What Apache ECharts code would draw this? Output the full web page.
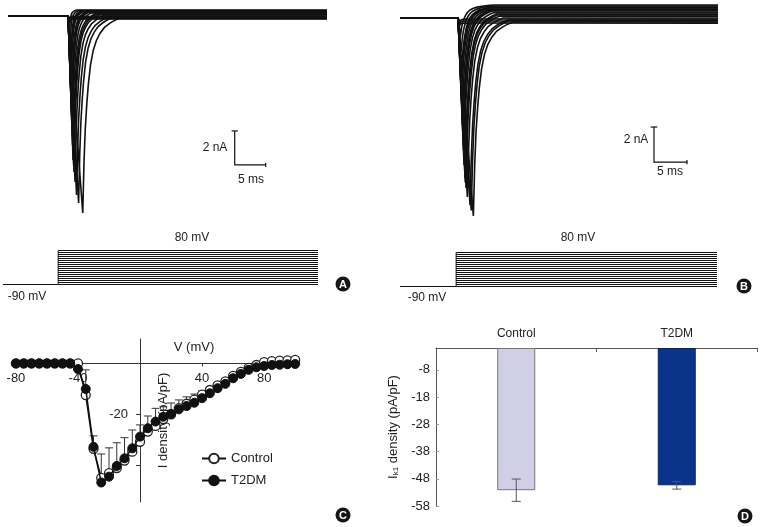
<!DOCTYPE html>
<html>
<head>
<meta charset="utf-8">
<script src="https://cdn.jsdelivr.net/npm/echarts@6/dist/echarts.min.js"></script>
<style>
html, body { margin: 0; padding: 0; background: #fff; }
#main { width: 761px; height: 527px; }
</style>
</head>
<body>
<div id="main"></div>
<script>
var FONT = '"Liberation Sans", Arial, sans-serif';
var INK = '#111';

// ---- A / B : current traces (ms, nA), one entry per trace ----
var stepT = 10;
var spanA = [0.3, 51.8];
var aPeakT = [12.37, 11.7, 11.37, 11.13, 10.97, 10.9, 10.81, 10.73, 10.65, 10.6, 10.56, 10.48, 10.45, 10.40, 10.32, 10.24, 10.2, 10.2, 10.2, 10.2];
var aPeakI = [-11.59, -11.0, -10.53, -9.76, -9.18, -8.8, -8.47, -7.59, -6.59, -6.0, -5.53, -4.35, -3.8, -3.18, -2.00, -0.94, -0.3, -0.25, -0.2, -0.15];
var aPlateau = [-0.12, -0.1, -0.06, 0, 0.06, 0.1, 0.12, 0.18, 0.21, 0.22, 0.24, 0.26, 0.28, 0.29, 0.32, 0.35, -0.18, -0.15, -0.09, -0.03];
var aTau = [1.0, 0.9, 0.85, 0.75, 0.66, 0.62, 0.58, 0.5, 0.44, 0.41, 0.38, 0.33, 0.3, 0.28, 0.24, 0.2, 0.15, 0.15, 0.15, 0.15];

var spanB = [1.2, 49.4];
var bPeakT = [12.32, 12.0, 11.82, 11.41, 11.21, 11.1, 11.06, 10.91, 10.83, 10.8, 10.76, 10.68, 10.61, 10.57, 10.53, 10.45, 10.38, 10.3, 10.3, 10.3];
var bPeakI = [-11.31, -11.0, -10.69, -10.23, -9.71, -9.4, -9.14, -8.40, -7.54, -7.0, -6.51, -5.37, -4.23, -3.6, -3.09, -1.94, -0.97, -0.4, -0.3, -0.2];
var bPlateau = [-0.23, -0.15, -0.11, 0, 0.11, 0.18, 0.23, 0.31, 0.40, 0.43, 0.46, 0.51, 0.57, 0.6, 0.63, 0.69, 0.74, -0.29, -0.17, -0.06];
var bTau = [1.0, 0.97, 0.95, 0.9, 0.85, 0.82, 0.8, 0.75, 0.72, 0.71, 0.7, 0.7, 0.72, 0.73, 0.75, 0.8, 0.85, 0.2, 0.2, 0.2];

// recovery from peak: ms after peak / fraction of peak left
var recT = [0, 0.2, 0.4, 0.65, 0.9, 1.25, 1.7, 2.2, 2.8, 3.5, 4.4, 5.2, 6.0];
var recF = [1, 0.74, 0.57, 0.44, 0.34, 0.24, 0.165, 0.115, 0.078, 0.048, 0.026, 0.011, 0];

// scale bars: corner [ms, nA], 5 ms x 2 nA
var barA = [36.9, -8.76];
var barB = [39.7, -8.23];

// ---- voltage protocol (ms, mV) ----
var protoLevels = [-90, -80, -70, -60, -50, -40, -30, -20, -10, 0, 10, 20, 30, 40, 50, 60, 70, 80];
var protoSpanA = [1.1, 51.9];
var protoSpanB = [1.5, 49.5];

// ---- C : I-V relation ----
var voltC = [-80, -75, -70, -65, -60, -55, -50, -45, -40, -35, -30, -25, -20, -15, -10, -5, 0, 5, 10,
  15, 20, 25, 30, 35, 40, 45, 50, 55, 60, 65, 70, 75, 80, 85, 90, 95, 100];
var controlC = [0, 0, 0, 0, 0, 0, 0, 0, 0, -12.4, -33.5, -44.9, -43, -41, -38.1, -34.6, -30.7, -26.7, -24.5,
  -21.8, -20, -17.5, -15.8, -14.2, -12.2, -10.4, -8.6, -7.0, -4.9, -3.3, -1.7, -0.6, 0.5, 0.9, 1.1, 1.2, 1.4];
var controlErr = [0, 0, 0, 0, 0, 0, 0, 0, 0.8, 9.9, 5.1, 9.4, 9.9, 9.9, 9.0, 8.5, 6.6, 6.1, 6.9,
  4.8, 4.5, 3.2, 2.7, 2.2, 1.4, 1.1, 1.0, 0.8, 0.8, 0.8, 0.8, 0.8, 0.8, 0.8, 0.8, 0.8, 0.8];
var t2dmC = [0, 0, 0, 0, 0, 0, 0, 0, -2.2, -10, -32.7, -46.7, -44.4, -40.2, -37.2, -33.3, -28.7, -25.4, -22.8,
  -20.9, -19.8, -18, -16.7, -15.4, -13.6, -11.7, -9.7, -8, -5.8, -4.1, -2.5, -1.5, -1, -0.6, -0.5, -0.3, -0.2];
var xTicksC = [-80, -40, 40, 80];

// ---- D : IK1 density ----
var groupsD = ['Control', 'T2DM'];
var meanD = [-52.2, -50.4];
var semD = [4.1, 1.4];
var yTicksD = [-8, -18, -28, -38, -48, -58];

function traceCoords(span, pt, pi, pl, tau) {
    var c = [[span[0], 0], [stepT, 0], [pt, pi]];
    for (var j = 1; j < recT.length; j++) {
        c.push([pt + tau * recT[j], pl + (pi - pl) * recF[j]]);
    }
    c.push([span[1], pl]);
    return { coords: c };
}
function traces(span, pT, pI, pl, tau) {
    var out = [];
    for (var i = 0; i < pT.length; i++) out.push(traceCoords(span, pT[i], pI[i], pl[i], tau[i]));
    return out;
}
function protocol(span) {
    var out = [
        { coords: [[span[0], -90], [stepT, -90]] },
        { coords: [[stepT, -90], [stepT, 80]] }
    ];
    protoLevels.forEach(function (l) { out.push({ coords: [[stepT, l], [span[1], l]] }); });
    return out;
}
function scaleBar(c) {
    return [
        { coords: [[c[0], c[1] + 2], [c[0], c[1]], [c[0] + 5, c[1]]] },
        { coords: [[c[0] - 0.5, c[1] + 2], [c[0] + 0.5, c[1] + 2]] },
        { coords: [[c[0] + 5, c[1] - 0.12], [c[0] + 5, c[1] + 0.12]] }
    ];
}
function linesSeries(idx, data, w) {
    return {
        type: 'lines', coordinateSystem: 'cartesian2d', polyline: true,
        xAxisIndex: idx, yAxisIndex: idx, silent: true, clip: false,
        lineStyle: { color: INK, width: w, opacity: 1 },
        data: data
    };
}
function hiddenAxis(min, max, idx) {
    return { type: 'value', gridIndex: idx, min: min, max: max, show: false };
}
function badge(letter, x, y) {
    return {
        type: 'group', x: x, y: y,
        children: [
            { type: 'circle', shape: { cx: 0, cy: 0, r: 7.5 }, style: { fill: '#161616' } },
            { type: 'text', x: 0, y: 0.5, style: { text: letter, fill: '#fff', font: 'bold 11px "Liberation Sans", Arial', align: 'center', verticalAlign: 'middle' } }
        ]
    };
}
function label(text, x, y, size) {
    return { type: 'text', x: x, y: y, style: { text: text, fill: '#222', font: (size || 12) + 'px ' + FONT, align: 'center', verticalAlign: 'middle' } };
}

var myChart = echarts.init(document.getElementById('main'), null, { renderer: 'canvas' });

var option = {
    animation: false,
    backgroundColor: '#fff',
    grid: [
        { left: 8, top: 5.8, width: 319, height: 222.7, outerBoundsMode: 'none' },
        { left: 400, top: 4, width: 318, height: 232.75, outerBoundsMode: 'none' },
        { left: 3, top: 249.5, width: 315, height: 36, outerBoundsMode: 'none' },
        { left: 400, top: 251.5, width: 317, height: 36, outerBoundsMode: 'none' },
        { left: 11.3, top: 339, width: 288.5, height: 162.9, outerBoundsMode: 'none' },
        { left: 436, top: 348, width: 321, height: 158, outerBoundsMode: 'none' }
    ],
    xAxis: [
        hiddenAxis(spanA[0], spanA[1], 0),
        hiddenAxis(spanB[0], spanB[1], 1),
        hiddenAxis(protoSpanA[0], protoSpanA[1], 2),
        hiddenAxis(protoSpanB[0], protoSpanB[1], 3),
        {
            type: 'value', gridIndex: 4, min: -83, max: 103, position: 'bottom', offset: -138.4,
            axisLine: { onZero: false, lineStyle: { color: '#333', width: 1 } },
            axisTick: { show: true, length: 3, customValues: xTicksC, lineStyle: { color: '#333' } },
            axisLabel: { customValues: xTicksC, margin: 8, color: '#222', fontSize: 13, fontFamily: FONT },
            splitLine: { show: false }
        },
        {
            type: 'category', gridIndex: 5, data: groupsD, position: 'top',
            axisLine: { lineStyle: { color: '#555', width: 1 } },
            axisTick: { show: true, inside: true, length: 4, lineStyle: { color: '#555' } },
            axisLabel: { margin: 8, color: '#222', fontSize: 12, fontFamily: FONT }
        }
    ],
    yAxis: [
        hiddenAxis(-12.5, 0.6, 0),
        hiddenAxis(-12.5, 0.8, 1),
        hiddenAxis(-95, 85, 2),
        hiddenAxis(-95, 85, 3),
        {
            type: 'value', gridIndex: 4, min: -54.3, max: 9.6, position: 'left', offset: -128.7,
            axisLine: { show: true, onZero: false, lineStyle: { color: '#333', width: 1 } },
            axisTick: { show: true, length: 4, customValues: [-20, -40], lineStyle: { color: '#333' } },
            axisLabel: { customValues: [-20], margin: 12, color: '#222', fontSize: 13, fontFamily: FONT },
            splitLine: { show: false },
            name: 'I density (pA/pF)', nameLocation: 'middle', nameGap: -30,
            nameTextStyle: { color: '#222', fontSize: 13, fontFamily: FONT }
        },
        {
            type: 'value', gridIndex: 5, min: -58, max: 0,
            axisLine: { show: true, lineStyle: { color: '#555', width: 1 } },
            axisTick: { show: true, inside: true, length: 3, customValues: yTicksD, lineStyle: { color: '#999' } },
            axisLabel: { customValues: yTicksD, margin: 6, color: '#222', fontSize: 13, fontFamily: FONT },
            splitLine: { show: false },
            name: '{a|I}{s|k1}{a| density (pA/pF)}', nameLocation: 'middle', nameGap: 36,
            nameTextStyle: {
                rich: {
                    a: { fontSize: 13, fontFamily: FONT, color: '#222', lineHeight: 16, verticalAlign: 'bottom' },
                    s: { fontSize: 8, fontFamily: FONT, color: '#222', lineHeight: 16, verticalAlign: 'bottom' }
                }
            }
        }
    ],
    legend: {
        orient: 'vertical', left: 196, top: 447, itemWidth: 24, itemHeight: 12, itemGap: 9,
        data: ['Control', 'T2DM'],
        textStyle: { color: '#222', fontSize: 13, fontFamily: FONT }
    },
    series: [
        linesSeries(0, traces(spanA, aPeakT, aPeakI, aPlateau, aTau), 1.6),
        linesSeries(0, scaleBar(barA), 1.2),
        linesSeries(1, traces(spanB, bPeakT, bPeakI, bPlateau, bTau), 1.6),
        linesSeries(1, scaleBar(barB), 1.2),
        linesSeries(2, protocol(protoSpanA), 1),
        linesSeries(3, protocol(protoSpanB), 1),
        {
            type: 'custom', xAxisIndex: 4, yAxisIndex: 4, silent: true, z: 2,
            data: voltC.map(function (v, i) { return [v, controlC[i], controlErr[i]]; }),
            renderItem: function (params, api) {
                var e = api.value(2);
                if (!e) return;
                var p0 = api.coord([api.value(0), api.value(1)]);
                var p1 = api.coord([api.value(0), api.value(1) + e]);
                var st = { stroke: '#333', lineWidth: 1 };
                return {
                    type: 'group', children: [
                        { type: 'line', shape: { x1: p0[0], y1: p0[1], x2: p1[0], y2: p1[1] }, style: st },
                        { type: 'line', shape: { x1: p1[0] - 4, y1: p1[1], x2: p1[0] + 4, y2: p1[1] }, style: st }
                    ]
                };
            }
        },
        {
            name: 'Control', type: 'line', xAxisIndex: 4, yAxisIndex: 4, z: 3,
            data: voltC.map(function (v, i) { return [v, controlC[i]]; }),
            symbol: 'circle', symbolSize: 9,
            itemStyle: { color: '#fff', borderColor: '#222', borderWidth: 1.3 },
            lineStyle: { color: INK, width: 1.5 }
        },
        {
            name: 'T2DM', type: 'line', xAxisIndex: 4, yAxisIndex: 4, z: 4,
            data: voltC.map(function (v, i) { return [v, t2dmC[i]]; }),
            symbol: 'circle', symbolSize: 9,
            itemStyle: { color: INK, borderColor: INK, borderWidth: 1 },
            lineStyle: { color: INK, width: 1.5 }
        },
        {
            type: 'bar', xAxisIndex: 5, yAxisIndex: 5, barWidth: 38, silent: true,
            data: [
                { value: meanD[0], itemStyle: { color: '#d0cfe6', borderColor: '#777', borderWidth: 1 } },
                { value: meanD[1], itemStyle: { color: '#0b3387', borderColor: '#06246a', borderWidth: 1 } }
            ]
        },
        {
            type: 'custom', xAxisIndex: 5, yAxisIndex: 5, silent: true, z: 5,
            data: groupsD.map(function (g, i) { return [i, meanD[i], semD[i]]; }),
            renderItem: function (params, api) {
                var x = api.value(0), m = api.value(1), e = api.value(2);
                var hi = api.coord([x, m + e]), lo = api.coord([x, m - e]);
                var st = { stroke: '#555', lineWidth: 1 };
                return {
                    type: 'group', children: [
                        { type: 'line', shape: { x1: hi[0], y1: hi[1], x2: lo[0], y2: lo[1] }, style: st },
                        { type: 'line', shape: { x1: hi[0] - 4.5, y1: hi[1], x2: hi[0] + 4.5, y2: hi[1] }, style: st },
                        { type: 'line', shape: { x1: lo[0] - 4.5, y1: lo[1], x2: lo[0] + 4.5, y2: lo[1] }, style: st }
                    ]
                };
            }
        }
    ],
    graphic: [
        label('2 nA', 215, 148),
        label('5 ms', 251, 180),
        label('2 nA', 636, 140),
        label('5 ms', 670, 172),
        label('80 mV', 192, 238),
        label('-90 mV', 27, 297),
        label('80 mV', 578, 238),
        label('-90 mV', 427, 298),
        label('V (mV)', 194, 347, 13),
        badge('A', 343, 284),
        badge('B', 744, 286),
        badge('C', 343, 515),
        badge('D', 745, 516)
    ]
};

myChart.setOption(option, true);
</script>
</body>
</html>
